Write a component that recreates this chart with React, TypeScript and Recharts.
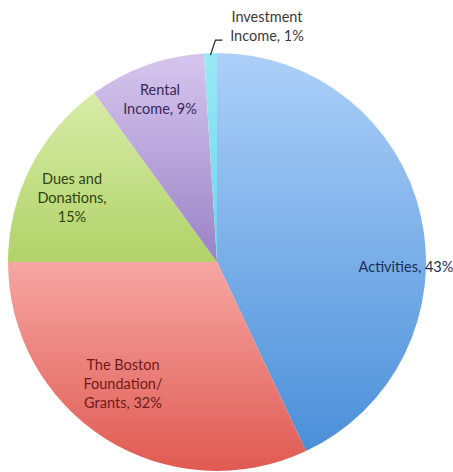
import React from "react";
import { PieChart, Pie, Cell } from "recharts";

const categories = [
  "Activities",
  "The Boston Foundation/ Grants",
  "Dues and Donations",
  "Rental Income",
  "Investment Income",
];
const shares = [43, 32, 15, 9, 1];
const labelLines = [
  ["Activities, 43%"],
  ["The Boston", "Foundation/", "Grants, 32%"],
  ["Dues and", "Donations,", "15%"],
  ["Rental", "Income, 9%"],
  ["Investment", "Income, 1%"],
];

const data = categories.map((name, i) => ({ name, value: shares[i] }));

const grads = [
  { id: "gBlue", top: "#acd0f8", bottom: "#4b8fd9" },
  { id: "gRed", top: "#f6a6a2", bottom: "#df5a52" },
  { id: "gGreen", top: "#d8eca8", bottom: "#b0d268" },
  { id: "gPurple", top: "#d6c6ee", bottom: "#9a82c6" },
  { id: "gCyan", top: "#9ae8f6", bottom: "#6cd6ec" },
];
const textColors = ["#1a2f5a", "#6e1a1a", "#33420f", "#3a2858", "#3a3a3a"];
// label offsets from pie centre (layout only)
const labelOffsets = [
  { dx: 189, dy: 4 },
  { dx: -94, dy: 121 },
  { dx: -145, dy: -65 },
  { dx: -57, dy: -163 },
  { dx: 50, dy: -236 },
];
const LINE_H = 19;
const RAD = Math.PI / 180;

const renderLabel = (props: any) => {
  const { cx, cy, index, midAngle, outerRadius } = props;
  const off = labelOffsets[index];
  const lines = labelLines[index];
  const x = cx + off.dx;
  const y = cy + off.dy;
  const start = (lines.length - 1) / 2;
  const font = { fontFamily: "Lato, 'Open Sans', sans-serif", fontSize: 14.5 };
  const text = (
    <text
      x={x}
      y={y}
      textAnchor="middle"
      fill={textColors[index]}
      style={font}
      key={"t" + index}
    >
      {lines.map((l, i) => (
        <tspan key={i} x={x} y={y + (i - start) * LINE_H} dominantBaseline="central">
          {l}
        </tspan>
      ))}
    </text>
  );
  if (index === 4) {
    const sx = cx + outerRadius * Math.cos(-midAngle * RAD);
    const sy = cy + outerRadius * Math.sin(-midAngle * RAD) + 2;
    const kx = sx + 5;
    const ky = sy - 15;
    const ex = kx + 7;
    return (
      <g key={"l" + index}>
        <polyline
          points={`${sx},${sy} ${kx},${ky} ${ex},${ky}`}
          fill="none"
          stroke="#222"
          strokeWidth={1.2}
        />
        {text}
      </g>
    );
  }
  return text;
};

export default function App() {
  return (
    <div style={{ position: "absolute", left: 0, top: 0, background: "#fff" }}>
      <PieChart width={453} height={472} margin={{ top: 0, right: 0, bottom: 0, left: 0 }}>
        <defs>
          {grads.map((g) => (
            <linearGradient key={g.id} id={g.id} x1="0" y1="0" x2="0" y2="1">
              <stop offset="0%" stopColor={g.top} />
              <stop offset="100%" stopColor={g.bottom} />
            </linearGradient>
          ))}
        </defs>
        <Pie
          data={data}
          dataKey="value"
          nameKey="name"
          cx={217}
          cy={262}
          outerRadius={209}
          startAngle={90}
          endAngle={-270}
          stroke="none"
          label={renderLabel}
          labelLine={false}
          isAnimationActive={false}
        >
          {data.map((d, i) => (
            <Cell key={d.name} fill={`url(#${grads[i].id})`} />
          ))}
        </Pie>
      </PieChart>
    </div>
  );
}
